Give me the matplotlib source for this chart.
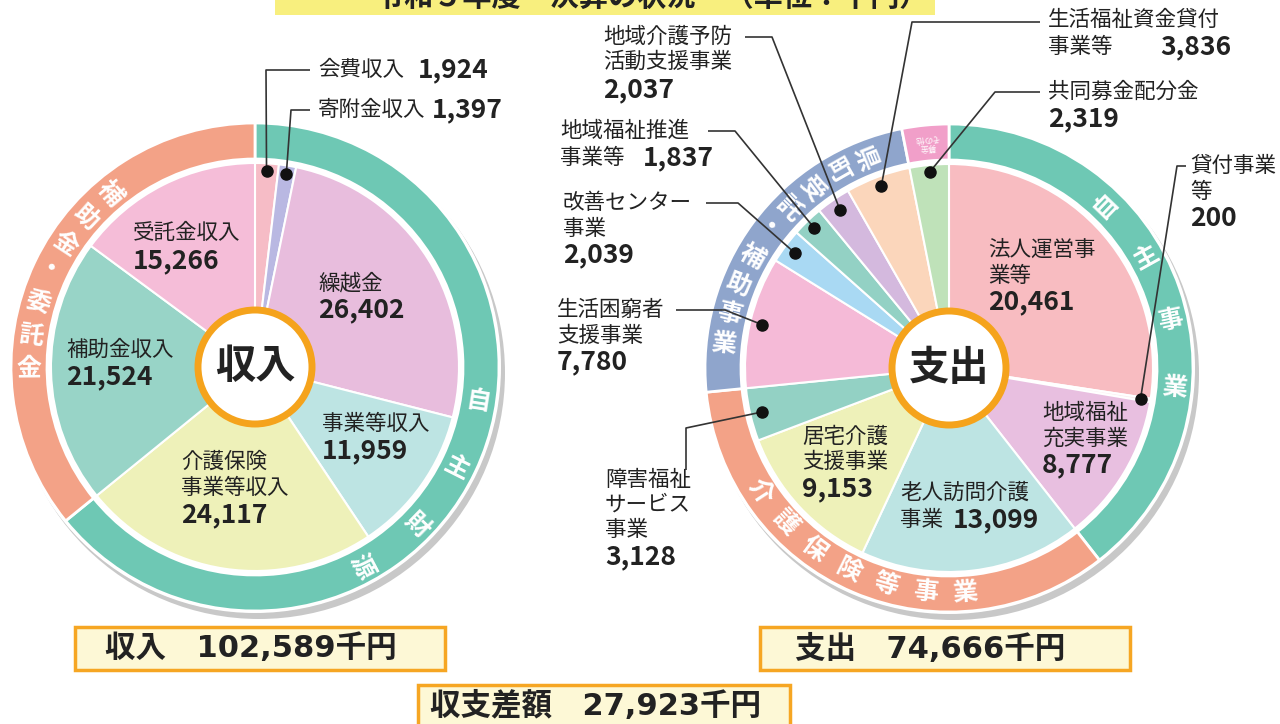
import numpy as np
import matplotlib.pyplot as plt
from matplotlib.patches import Circle, Rectangle

plt.rcParams['font.family'] = ['Noto Sans CJK JP', 'DejaVu Sans']

# 収入 (千円) - clockwise from 12 o'clock
income_names = ['会費収入', '寄附金収入', '繰越金', '事業等収入', '介護保険事業等収入', '補助金収入', '受託金収入']
income_values = [1924, 1397, 26402, 11959, 24117, 21524, 15266]
income_groups = ['自主財源', '自主財源', '自主財源', '自主財源', '自主財源', '補助金・委託金', '補助金・委託金']

# 支出 (千円)
expense_names = ['法人運営事業等', '貸付事業等', '地域福祉充実事業', '老人訪問介護事業', '居宅介護支援事業',
                 '障害福祉サービス事業', '生活困窮者支援事業', '改善センター事業', '地域福祉推進事業等',
                 '地域介護予防活動支援事業', '生活福祉資金貸付事業等', '共同募金配分金']
expense_values = [20461, 200, 8777, 13099, 9153, 3128, 7780, 2039, 1837, 2037, 3836, 2319]
expense_groups = ['自主事業', '自主事業', '自主事業', '介護保険等事業', '介護保険等事業', '介護保険等事業',
                  '県町受託・補助事業', '県町受託・補助事業', '県町受託・補助事業', '県町受託・補助事業',
                  '県町受託・補助事業', '募金その他']

income_total = sum(income_values)
expense_total = sum(expense_values)
balance = income_total - expense_total

income_colors = ['#f6bcc6', '#b9b8e2', '#e8bddd', '#bde4e3', '#eef1b9', '#98d4c7', '#f5bdd8']
expense_colors = ['#f8bcc1', '#fbeef0', '#e8bfe0', '#bde4e3', '#eef1b9', '#93d1c4', '#f5bad7',
                  '#a9d9f3', '#93d1c4', '#d4b9de', '#fbd6bb', '#bfe2b9']
group_colors = {'自主財源': '#6ec8b4', '補助金・委託金': '#f3a287', '自主事業': '#6ec8b4',
                '介護保険等事業': '#f3a287', '県町受託・補助事業': '#8fa5cc', '募金その他': '#f19fc9'}

W, H = 1280, 724
R, R_RING, R_PIE = 244, 208, 204
NAME_FS, NUM_FS = 15.5, 19
TXT = '#222222'

fig = plt.figure(figsize=(12.8, 7.24), dpi=100)
ax = fig.add_axes([0, 0, 1, 1])


def Y(y):
    return H - y


def polar(cx, cy, r, a):
    t = np.deg2rad(a)
    return cx + r * np.cos(t), Y(cy) + r * np.sin(t)


def mid_angle(values, i):
    c = np.cumsum(values)
    return 90 - 360 * (c[i] - values[i] / 2) / c[-1]


def donut(cx, cy, values, colors, groups, title):
    gnames = list(dict.fromkeys(groups))
    gvals = [sum(v for v, g in zip(values, groups) if g == n) for n in gnames]
    ax.add_patch(Circle((cx + 4, Y(cy) - 6), R + 2, fc='#c8c8c8', ec='none', zorder=0))
    ax.add_patch(Circle((cx, Y(cy)), R + 2, fc='white', ec='none', zorder=0))
    ax.pie(gvals, colors=[group_colors[n] for n in gnames], radius=R, center=(cx, Y(cy)),
           startangle=90, counterclock=False,
           wedgeprops=dict(width=R - R_RING, edgecolor='white', linewidth=2))
    ax.pie(values, colors=colors, radius=R_PIE, center=(cx, Y(cy)), startangle=90,
           counterclock=False, wedgeprops=dict(edgecolor='white', linewidth=1.5))
    ax.add_patch(Circle((cx, Y(cy)), 57, fc='white', ec='#f5a31c', lw=5, zorder=5))
    ax.text(cx, Y(cy), title, fontsize=29, fontweight='bold', ha='center', va='center',
            color=TXT, zorder=6)


def ring_text(cx, cy, chars, start, step, mode, fs=18):
    for k, ch in enumerate(chars):
        a = start + step * k
        x, y = polar(cx, cy, 226, a)
        rot = {'cw': a, 'ccw': a - 180, 'h': a + 90}[mode]
        ax.text(x, y, ch, rotation=rot, rotation_mode='anchor', ha='center', va='center',
                color='white', fontsize=fs, fontweight='bold', zorder=3)


def name(x, y, s):
    ax.text(x, Y(y), s, fontsize=NAME_FS, ha='left', va='center', color=TXT, zorder=6)


def num(x, y, v):
    ax.text(x, Y(y), f'{v:,}', fontsize=NUM_FS, fontweight='bold', ha='left', va='center',
            color=TXT, zorder=6)


def leader(cx, cy, values, i, r, pts):
    dx, dy = polar(cx, cy, r, mid_angle(values, i))
    xs = [p[0] for p in pts] + [dx]
    ys = [Y(p[1]) for p in pts] + [dy]
    ax.plot(xs, ys, color='#333333', lw=1.2, zorder=4, solid_capstyle='butt')
    ax.plot(dx, dy, 'o', color='#111111', ms=8, zorder=4)


# ---- 収入 ----
icx, icy = 255, 367
donut(icx, icy, income_values, income_colors, income_groups, '収入')
ring_text(icx, icy, '自主財源', -9, -17.7, 'cw')
ring_text(icx, icy, '補助金・委託金', 130, 8.4, 'ccw')

name(318, 70, '会費収入'); num(418, 70, income_values[0])
name(318, 110, '寄附金収入'); num(432, 110, income_values[1])
leader(icx, icy, income_values, 0, 196, [(310, 70), (266, 70)])
leader(icx, icy, income_values, 1, 196, [(310, 110), (291, 110)])
name(318, 283, '繰越金'); num(318, 310, income_values[2])
name(322, 424, '事業等収入'); num(322, 451, income_values[3])
name(181, 462, '介護保険'); name(181, 488, '事業等収入'); num(181, 515, income_values[4])
name(66, 350, '補助金収入'); num(66, 377, income_values[5])
name(133, 233, '受託金収入'); num(133, 261, income_values[6])

# ---- 支出 ----
ecx, ecy = 949, 368
donut(ecx, ecy, expense_values, expense_colors, expense_groups, '支出')
ring_text(ecx, ecy, '自主事業', 46, -17, 'cw')
ring_text(ecx, ecy, '介護保険等事業', -147, 10.2, 'h')
ring_text(ecx, ecy, '県町受託・補助事業', 112, 7.75, 'ccw')
px, py = polar(ecx, ecy, 226, 95.5)
ax.text(px, py, '募金\nその他', rotation=185, rotation_mode='anchor', ha='center', va='center',
        color='white', fontsize=6, linespacing=1.0, zorder=3)

name(988, 250, '法人運営事'); name(988, 276, '業等'); num(988, 302, expense_values[0])
name(1190, 166, '貸付事業'); name(1190, 192, '等'); num(1190, 218, expense_values[1])
leader(ecx, ecy, expense_values, 1, 194, [(1186, 166), (1177, 166)])
name(1042, 413, '地域福祉'); name(1042, 439, '充実事業'); num(1042, 465, expense_values[2])
name(900, 493, '老人訪問介護'); name(900, 520, '事業'); num(953, 520, expense_values[3])
name(802, 437, '居宅介護'); name(802, 462, '支援事業'); num(802, 489, expense_values[4])
name(605, 480, '障害福祉'); name(605, 505, 'サービス'); name(605, 530, '事業'); num(605, 557, expense_values[5])
leader(ecx, ecy, expense_values, 5, 192, [(686, 470), (686, 428)])
name(557, 310, '生活困窮者'); name(557, 336, '支援事業'); num(557, 362, expense_values[6])
leader(ecx, ecy, expense_values, 6, 192, [(676, 310), (725, 310)])
name(563, 203, '改善センター'); name(563, 229, '事業'); num(563, 255, expense_values[7])
leader(ecx, ecy, expense_values, 7, 192, [(706, 203), (738, 203)])
name(560, 131, '地域福祉推進'); name(560, 158, '事業等'); num(643, 158, expense_values[8])
leader(ecx, ecy, expense_values, 8, 194, [(708, 131), (735, 131)])
name(603, 37, '地域介護予防'); name(603, 62, '活動支援事業'); num(603, 90, expense_values[9])
leader(ecx, ecy, expense_values, 9, 192, [(745, 37), (772, 37)])
name(1048, 20, '生活福祉資金貸付'); name(1048, 47, '事業等'); num(1160, 47, expense_values[10])
leader(ecx, ecy, expense_values, 10, 194, [(1040, 22), (912, 22)])
name(1048, 92, '共同募金配分金'); num(1048, 119, expense_values[11])
leader(ecx, ecy, expense_values, 11, 197, [(1040, 92), (995, 92)])

# ---- title banner (cut off at top, as in the source) ----
ax.add_patch(Rectangle((275, Y(15)), 660, 25, fc='#f8ef7e', ec='none', zorder=1))
ax.text(928, Y(-3), '令和５年度　決算の状況　（単位：千円）', fontsize=21, fontweight='bold',
        ha='right', va='center', color=TXT, zorder=2)

# ---- totals ----
box_font = ['DejaVu Sans', 'Noto Sans CJK JP']
for (x0, y0, x1, y1, tx, s) in [
        (75, 627, 445, 670, 105, f'収入　{income_total:,}千円'),
        (760, 627, 1130, 670, 795, f'支出　{expense_total:,}千円'),
        (418, 685, 790, 730, 430, f'収支差額　{balance:,}千円')]:
    ax.add_patch(Rectangle((x0, Y(y1)), x1 - x0, y1 - y0, fc='#fdf8d6', ec='#f6a623', lw=2.5, zorder=2))
    ax.text(tx, Y((y0 + y1) / 2 if y1 < H else 706), s, fontsize=22, fontweight='bold',
            family=box_font, ha='left', va='center', color=TXT, zorder=3)

ax.set_aspect('equal')
ax.set_xlim(0, W)
ax.set_ylim(0, H)
ax.axis('off')
fig.savefig('out.png', dpi=100, facecolor='white')
